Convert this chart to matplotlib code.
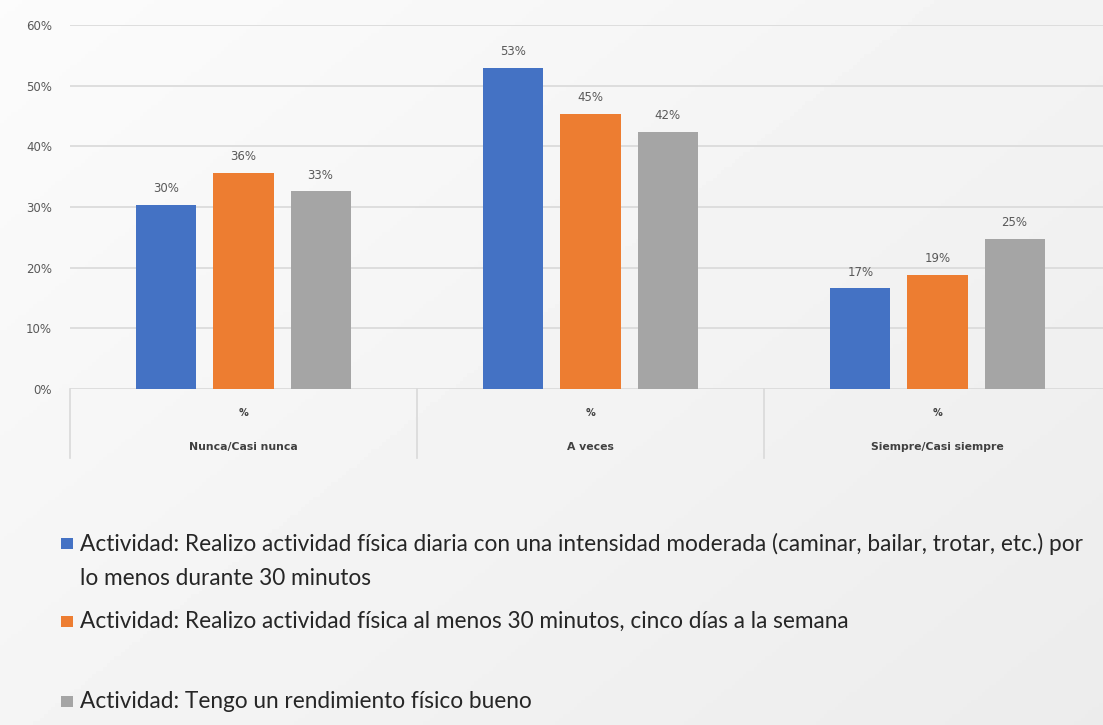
import numpy as np
import matplotlib.pyplot as plt
from matplotlib.patches import Rectangle
from matplotlib.legend_handler import HandlerPatch, update_from_first_child
from matplotlib.ticker import PercentFormatter
from matplotlib.transforms import blended_transform_factory

# valores
categorias = ["Nunca/Casi nunca", "A veces", "Siempre/Casi siempre"]
sub_etiqueta = "%"
series = [
    "Actividad: Realizo actividad física diaria con una intensidad moderada (caminar, bailar, trotar, etc.) por\nlo menos durante 30 minutos",
    "Actividad: Realizo actividad física al menos 30 minutos, cinco días a la semana",
    "Actividad: Tengo un rendimiento físico bueno",
]
diaria = [0.303, 0.529, 0.166]
cinco_dias = [0.356, 0.453, 0.188]
rendimiento = [0.326, 0.424, 0.248]
colores = ["#4472c4", "#ed7d31", "#a5a5a5"]

W, H = 1103, 725
fig = plt.figure(figsize=(W / 100, H / 100), dpi=100)

# fondo degradado suave
bg = fig.add_axes([0, 0, 1, 1], zorder=-10)
yy, xx = np.mgrid[0:1:200j, 0:1:300j]
grad = 0.985 - 0.06 * (0.55 * xx + 0.45 * yy)
bg.imshow(grad, cmap="gray", vmin=0, vmax=1, aspect="auto", extent=[0, 1, 0, 1], origin="upper")
bg.axis("off")

ax = fig.add_axes([70 / W, 1 - 389 / H, (1111 - 70) / W, (389 - 25) / H])
ax.patch.set_alpha(0)

x = np.arange(len(categorias))
ancho = 0.173
desp = 0.222
valores = [diaria, cinco_dias, rendimiento]
for i, (vals, col, lab) in enumerate(zip(valores, colores, series)):
    barras = ax.bar(x + (i - 1) * desp, vals, width=ancho, color=col, label=lab, zorder=3)
    ax.bar_label(barras, labels=[f"{v:.0%}" for v in vals], padding=7,
                 fontsize=8.5, color="#595959")

ax.set_xlim(-0.5, 2.5)
ax.set_ylim(0, 0.6)
ax.set_yticks(np.arange(0, 0.61, 0.1))
ax.yaxis.set_major_formatter(PercentFormatter(1.0, decimals=0))
ax.tick_params(axis="y", length=0, pad=13, labelsize=8.5, labelcolor="#595959")
ax.set_xticks([])
ax.yaxis.grid(True, color="#d9d9d9", linewidth=1.2, zorder=0)
for s in ax.spines.values():
    s.set_visible(False)

# eje de categorias con dos niveles
tr = blended_transform_factory(ax.transData, ax.transAxes)
for sep in [-0.5, 0.5, 1.5]:
    ax.plot([sep, sep], [0, -0.19], transform=tr, color="#d9d9d9", lw=1.2, clip_on=False)
for xi, cat in zip(x, categorias):
    ax.text(xi, -0.066, sub_etiqueta, transform=tr, ha="center", va="center",
            fontsize=7, fontweight="bold", color="#404040")
    ax.text(xi, -0.159, cat, transform=tr, ha="center", va="center",
            fontsize=7.8, fontweight="bold", color="#404040")


# cuadrito de leyenda alineado con la primera linea
def cuadro(legend, orig_handle, xdescent, ydescent, width, height, fontsize):
    return Rectangle((-xdescent, -ydescent + 0.13 * height), width, 0.62 * height)


handles, labels = ax.get_legend_handles_labels()
posiciones = [533, 611, 691]
for h, l, py in zip(handles, labels, posiciones):
    leg = fig.legend([h], [l], loc="upper left", bbox_to_anchor=(61 / W, 1 - py / H),
                     frameon=False, prop={"family": "Lato", "size": 16.3},
                     handlelength=0.52, handleheight=0.9, handletextpad=0.3,
                     labelcolor="#262626", borderaxespad=0, borderpad=0,
                     handler_map={h: HandlerPatch(patch_func=cuadro,
                                                  update_func=update_from_first_child)})
    for t in leg.get_texts():
        t.set_linespacing(1.75)
    for col in leg._legend_handle_box.get_children():
        for item in col.get_children():
            item.align = "top"

fig.savefig("out.png", dpi=100)
